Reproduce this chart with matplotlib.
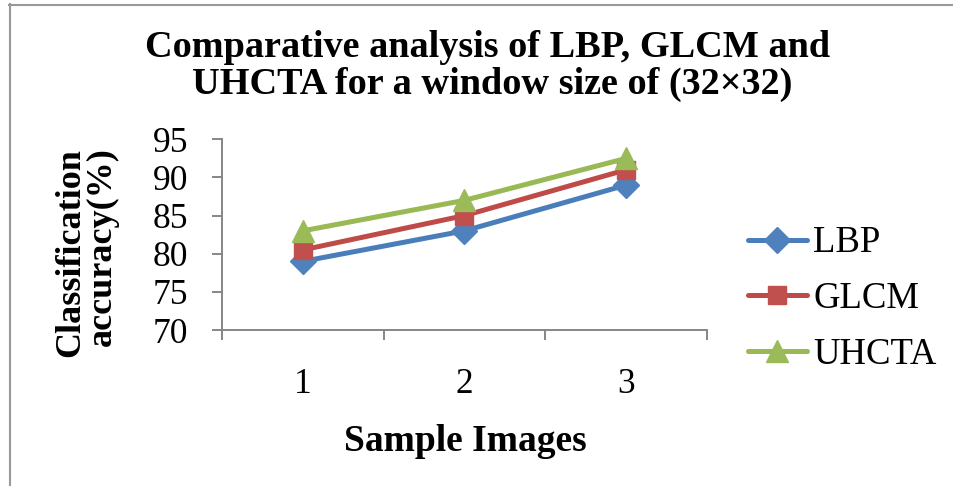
import matplotlib
matplotlib.use('Agg')
import matplotlib.pyplot as plt
from matplotlib.lines import Line2D

# ---- data ----
samples = [1, 2, 3]
sample_labels = ['1', '2', '3']
lbp = [79, 83, 89]
glcm = [80.5, 85, 91]
uhcta = [83, 87, 92.5]
series_names = ['LBP', 'GLCM', 'UHCTA']
yticks = [70, 75, 80, 85, 90, 95]
title_lines = ['Comparative analysis of LBP, GLCM and',
               'UHCTA for a window size of (32×32)']
xlabel = 'Sample Images'
ylabel_lines = ['Classification', 'accuracy(%)']

# ---- layout helpers ----
W, H = 954, 486
fig = plt.figure(figsize=(W / 100, H / 100), dpi=100)
fig.patch.set_facecolor('white')


def fx(px):
    return px / W


def fy(py):
    return 1 - py / H


SERIF = ['Liberation Serif', 'DejaVu Serif']
AXC = '#868686'

ax = fig.add_axes([fx(222), fy(330), fx(707) - fx(222), fy(139.3) - fy(330)])

styles = [
    dict(color='#4A7EBB', marker='D', markersize=13, mfc='#4F81BD', mec='#4F81BD'),
    dict(color='#BE4B48', marker='s', markersize=13.5, mfc='#C0504D', mec='#C0504D'),
    dict(color='#98B954', marker='^', markersize=15.5, mfc='#9BBB59', mec='#9BBB59'),
]
for vals, name, st in zip([lbp, glcm, uhcta], series_names, styles):
    ax.plot(samples, vals, linewidth=3.6, label=name, solid_capstyle='round', **st)

ax.set_xlim(0.5, 3.5)
ax.set_ylim(70, 95)
ax.set_yticks(yticks)
ax.set_yticklabels([str(v) for v in yticks], fontsize=25.5, family=SERIF)
ax.set_xticks([0.5, 1.5, 2.5, 3.5])
ax.set_xticklabels([])
ax.set_xticks(samples, minor=True)
ax.set_xticklabels(sample_labels, minor=True, fontsize=25.5, family=SERIF)

for s in ['top', 'right']:
    ax.spines[s].set_visible(False)
for s in ['left', 'bottom']:
    ax.spines[s].set_color(AXC)
    ax.spines[s].set_linewidth(1.4)

ax.tick_params(axis='y', which='major', direction='out', length=7.2, width=1.4,
               color=AXC, pad=17)
ax.tick_params(axis='x', which='major', direction='out', length=7.2, width=1.4,
               color=AXC)
ax.tick_params(axis='x', which='minor', length=0, pad=27)

# legend
leg = ax.legend(loc='center left', bbox_to_anchor=(fx(748), fy(299)),
                bbox_transform=fig.transFigure, frameon=False, borderpad=0,
                borderaxespad=0, handlelength=1.6, handletextpad=0.17,
                labelspacing=0.58, numpoints=1,
                prop=dict(family=SERIF, size=26.5))

# title
fig.text(fx(488), fy(57), title_lines[0], ha='center', va='baseline',
         fontsize=27.5, fontweight='bold', family=SERIF)
fig.text(fx(492), fy(94), title_lines[1], ha='center', va='baseline',
         fontsize=27.5, fontweight='bold', family=SERIF)

# x label
fig.text(fx(465), fy(451), xlabel, ha='center', va='baseline',
         fontsize=27, fontweight='bold', family=SERIF)

# y label (two rotated lines)
fig.text(fx(79), fy(253), ylabel_lines[0], ha='center', va='baseline',
         rotation=90, rotation_mode='anchor',
         fontsize=26, fontweight='bold', family=SERIF)
fig.text(fx(111), fy(247), ylabel_lines[1], ha='center', va='baseline',
         rotation=90, rotation_mode='anchor',
         fontsize=26, fontweight='bold', family=SERIF)

# grey frame lines (top and left)
fig.add_artist(Line2D([fx(9), 1], [fy(5), fy(5)], transform=fig.transFigure,
                      color='#999999', linewidth=1.5))
fig.add_artist(Line2D([fx(10), fx(10)], [fy(4), 0], transform=fig.transFigure,
                      color='#999999', linewidth=1.5))

fig.savefig('out.png', dpi=100, facecolor='white')
